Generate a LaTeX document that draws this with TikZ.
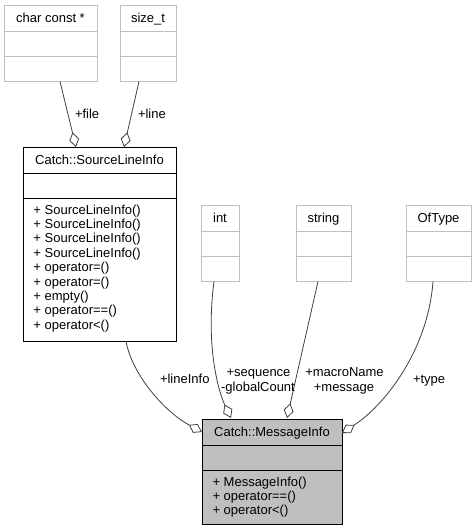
\documentclass[tikz,border=0pt]{standalone}
\usepackage{fontspec}
\setmainfont{Liberation Sans}
\usetikzlibrary{arrows.meta,calc}
\definecolor{edgegray}{HTML}{404040}
\definecolor{boxgray}{HTML}{BFBFBF}

\begin{document}
\begin{tikzpicture}[x=1pt,y=-1pt,
  every node/.style={font=\fontsize{13}{14.4}\selectfont, inner sep=0pt, outer sep=0pt},
  classbox/.style={draw=black, line width=1pt, rectangle, anchor=north west},
  focusbox/.style={classbox, fill=boxgray},
  typebox/.style={draw=boxgray, line width=1pt, rectangle, anchor=north west,
                  minimum height=76.5pt},
  divider/.style={line width=1pt},
  member/.style={anchor=base west},
  title/.style={anchor=base},
  agg/.style={draw=edgegray, line width=0.8pt,
              {Diamond[open, length=15pt, width=10pt]}-}]

\fill[white] (0,0) rectangle (476,531);
\useasboundingbox (0,0) rectangle (476,531);

% ---- plain type boxes (undocumented, grey outline) ----
\node[typebox, minimum width=93pt] (charp) at (4,5) {};
\node[typebox, minimum width=56pt] (sizet) at (120,5) {};
\node[typebox, minimum width=38pt] (intb)  at (201,205) {};
\node[typebox, minimum width=55pt] (strb)  at (296,205) {};
\node[typebox, minimum width=65pt] (oft)   at (406,205) {};

\foreach \b in {charp,sizet,intb,strb,oft}{
  \draw[divider, boxgray] ($(\b.north west)+(0,26)$) -- ($(\b.north east)+(0,26)$);
  \draw[divider, boxgray] ($(\b.north west)+(0,51)$) -- ($(\b.north east)+(0,51)$);
}

\node[title] (charp-t) at ($(charp.north)+(0,17)$) {char const *};
\node[title] (sizet-t) at ($(sizet.north)+(0,17)$) {size\_t};
\node[title] (intb-t)  at ($(intb.north)+(0,17)$)  {int};
\node[title] (strb-t)  at ($(strb.north)+(0,17)$)  {string};
\node[title] (oft-t)   at ($(oft.north)+(0,17)$)   {OfType};

% ---- Catch::SourceLineInfo ----
\node[classbox, minimum width=153pt, minimum height=194pt] (sli) at (23,147) {};
\draw[divider] ($(sli.north west)+(0,26)$) -- ($(sli.north east)+(0,26)$);
\draw[divider] ($(sli.north west)+(0,51)$) -- ($(sli.north east)+(0,51)$);
\node[title] (sli-t) at ($(sli.north)+(0,17)$) {Catch::SourceLineInfo};
\foreach \m [count=\i from 0] in {SourceLineInfo(),SourceLineInfo(),SourceLineInfo(),
    SourceLineInfo(),operator=(),operator=(),empty(),operator==(),operator<()}{
  \node[member] (sli-m\i) at ($(sli.north west)+(10.5,67+14.4*\i)$) {+ \m};
}

% ---- Catch::MessageInfo ----
\node[focusbox, minimum width=140pt, minimum height=105pt] (msg) at (202,419) {};
\draw[divider] ($(msg.north west)+(0,26)$) -- ($(msg.north east)+(0,26)$);
\draw[divider] ($(msg.north west)+(0,51)$) -- ($(msg.north east)+(0,51)$);
\node[title] (msg-t) at ($(msg.north)+(0,17)$) {Catch::MessageInfo};
\foreach \m [count=\i from 0] in {MessageInfo(),operator==(),operator<()}{
  \node[member] (msg-m\i) at ($(msg.north west)+(10.5,67+14.4*\i)$) {+ \m};
}

% ---- connector end points ----
\coordinate (charp-out) at ($(charp.south west)+(56,0)$);
\coordinate (sizet-out) at ($(sizet.south west)+(19,0)$);
\coordinate (sli-in-file) at ($(sli.north west)+(53,0)$);
\coordinate (sli-in-line) at ($(sli.north west)+(101,0)$);
\coordinate (sli-out) at ($(sli.south west)+(103,0)$);
\coordinate (intb-out) at ($(intb.south west)+(13,0)$);
\coordinate (strb-out) at ($(strb.south west)+(22,0)$);
\coordinate (oft-out) at ($(oft.south west)+(27,0)$);
\coordinate (msg-in-line) at ($(msg.north west)+(0,13)$);
\coordinate (msg-in-int) at ($(msg.north west)+(29,-1)$);
\coordinate (msg-in-str) at ($(msg.north west)+(85,-1)$);
\coordinate (msg-in-type) at ($(msg.north east)+(0,14)$);

% ---- aggregation connectors ----
\draw[agg] (sli-in-file) -- (charp-out);
\draw[agg] (sli-in-line) -- (sizet-out);
\draw[agg] (msg-in-line) .. controls (165,412) and (132,375) .. (sli-out);
\draw[agg] (msg-in-int) .. controls (220,395) and (205,350) .. (intb-out);
\draw[agg] (msg-in-str) -- (strb-out);
\draw[agg] (msg-in-type) .. controls (385,405) and (428,350) .. (oft-out);

% ---- connector labels ----
\node[anchor=base west] (lbl-file) at (75,118) {+file};
\node[anchor=base west] (lbl-line) at (138,118) {+line};
\node[anchor=base west] (lbl-lineinfo) at (160,383) {+lineInfo};
\node[anchor=base] (lbl-seq) at (258.5,376.5) {+sequence};
\node[anchor=base] (lbl-count) at (258,391) {-globalCount};
\node[anchor=base] (lbl-macro) at (344.5,376.5) {+macroName};
\node[anchor=base] (lbl-message) at (344,391) {+message};
\node[anchor=base west] (lbl-type) at (413,383) {+type};

\end{tikzpicture}
\end{document}
